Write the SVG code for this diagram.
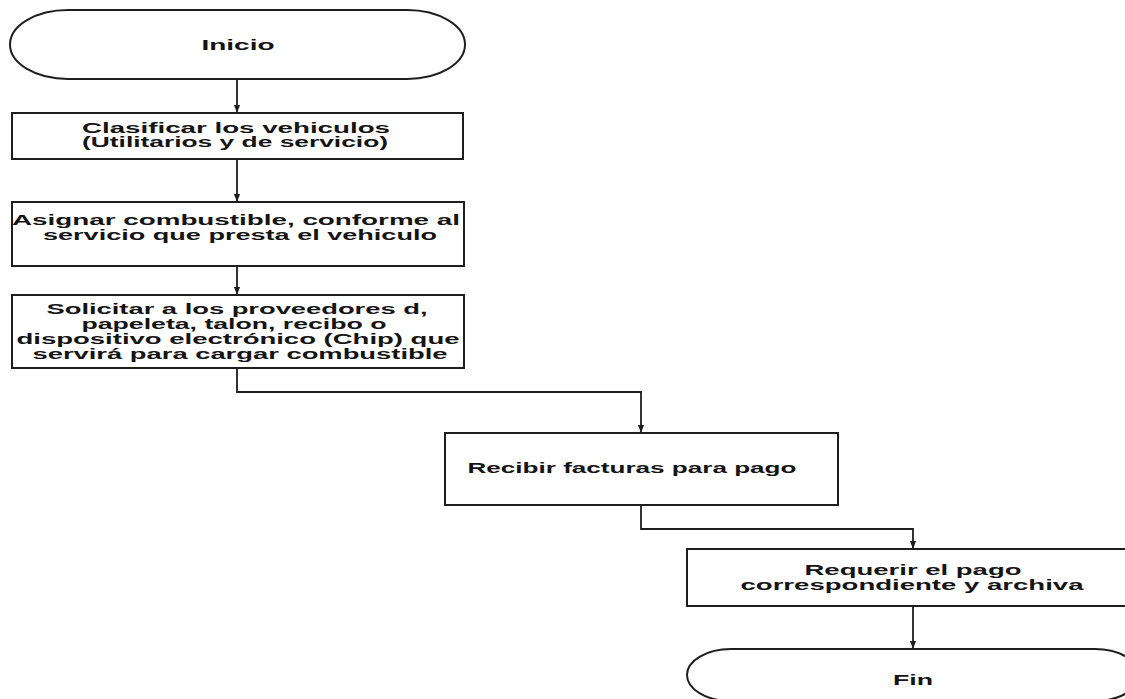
<svg xmlns="http://www.w3.org/2000/svg" width="1125" height="699" viewBox="0 0 1125 699">
  <style>
    .shape { fill: #ffffff; stroke: #1e1e1e; stroke-width: 2; }
    .edge { fill: none; stroke: #1e1e1e; stroke-width: 1.8; }
    .label { font-family: "Liberation Sans", Arial, sans-serif; font-weight: bold; font-size: 14px; fill: #141414; text-anchor: middle; }
  </style>
  <defs>
    <marker id="arrow" viewBox="0 0 10 10" refX="9" refY="5" markerWidth="8" markerHeight="8" orient="auto" markerUnits="userSpaceOnUse">
      <path d="M0,1 L10,5 L0,9 Z" fill="#1e1e1e"/>
    </marker>
  </defs>
  <rect width="1125" height="699" fill="#ffffff"/>

  <!-- connectors -->
  <g id="connectors">
    <path class="edge" d="M237,79 V112" marker-end="url(#arrow)"/>
    <path class="edge" d="M237,159 V201" marker-end="url(#arrow)"/>
    <path class="edge" d="M237,266 V294" marker-end="url(#arrow)"/>
    <path class="edge" d="M237,368 V392 H641 V432" marker-end="url(#arrow)"/>
    <path class="edge" d="M641,505 V529 H913 V548" marker-end="url(#arrow)"/>
    <path class="edge" d="M913,606 V648" marker-end="url(#arrow)"/>
  </g>

  <!-- start terminal -->
  <g id="inicio">
    <rect class="shape" x="10" y="10" width="455" height="69" rx="58" ry="34.5"/>
    <text class="label" x="238" y="50" textLength="73" lengthAdjust="spacingAndGlyphs">Inicio</text>
  </g>

  <g id="clasificar">
    <rect class="shape" x="12" y="113" width="451" height="46"/>
    <text class="label" x="236" y="133" textLength="308" lengthAdjust="spacingAndGlyphs">Clasificar los vehiculos</text>
    <text class="label" x="235" y="147" textLength="306" lengthAdjust="spacingAndGlyphs">(Utilitarios y de servicio)</text>
  </g>

  <g id="asignar">
    <rect class="shape" x="12" y="202" width="452" height="64"/>
    <text class="label" x="236" y="225" textLength="448" lengthAdjust="spacingAndGlyphs">Asignar combustible, conforme al</text>
    <text class="label" x="240" y="240" textLength="394" lengthAdjust="spacingAndGlyphs">servicio que presta el vehiculo</text>
  </g>

  <g id="solicitar">
    <rect class="shape" x="12" y="295" width="452" height="73"/>
    <text class="label" x="237" y="314" textLength="381" lengthAdjust="spacingAndGlyphs">Solicitar a los proveedores d,</text>
    <text class="label" x="234" y="329" textLength="305" lengthAdjust="spacingAndGlyphs">papeleta, talon, recibo o</text>
    <text class="label" x="238" y="344" textLength="443" lengthAdjust="spacingAndGlyphs">dispositivo electrónico (Chip) que</text>
    <text class="label" x="240" y="359" textLength="415" lengthAdjust="spacingAndGlyphs">servirá para cargar combustible</text>
  </g>

  <g id="recibir">
    <rect class="shape" x="445" y="433" width="393" height="72"/>
    <text class="label" x="632" y="473" textLength="329" lengthAdjust="spacingAndGlyphs">Recibir facturas para pago</text>
  </g>

  <g id="requerir">
    <rect class="shape" x="687" y="549" width="452" height="57"/>
    <text class="label" x="913" y="575" textLength="217" lengthAdjust="spacingAndGlyphs">Requerir el pago</text>
    <text class="label" x="912" y="590" textLength="343" lengthAdjust="spacingAndGlyphs">correspondiente y archiva</text>
  </g>

  <!-- end terminal -->
  <g id="fin">
    <rect class="shape" x="687" y="649" width="452" height="52" rx="44" ry="26"/>
    <text class="label" x="913" y="685" textLength="40" lengthAdjust="spacingAndGlyphs">Fin</text>
  </g>
</svg>
